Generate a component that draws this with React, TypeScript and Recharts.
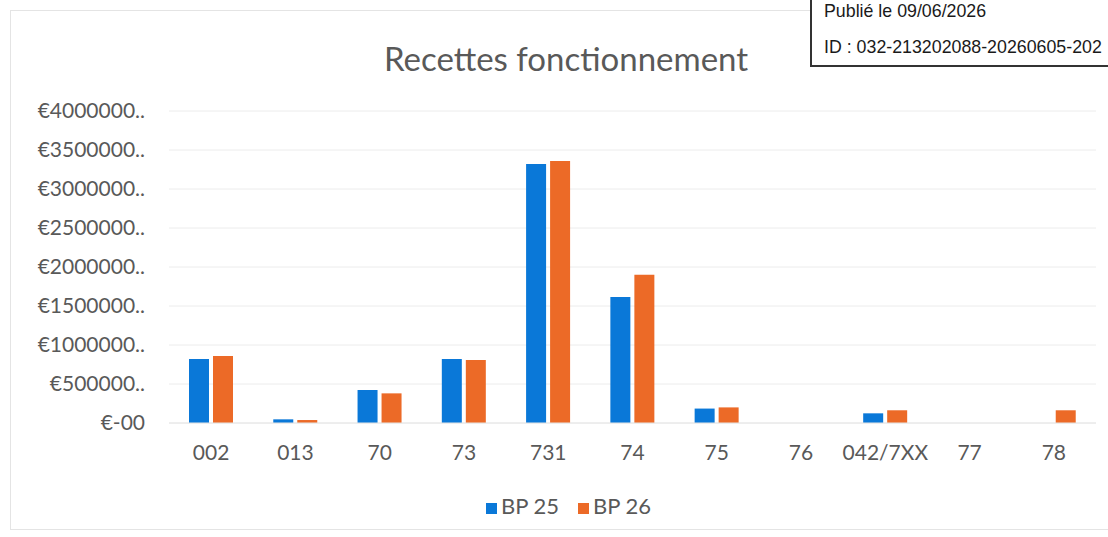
import { BarChart, Bar, XAxis, YAxis, CartesianGrid, Legend } from "recharts";

const categories = ["002", "013", "70", "73", "731", "74", "75", "76", "042/7XX", "77", "78"];
const bp25 = [820000, 47000, 423000, 820000, 3320000, 1615000, 185000, 0, 124000, 0, 0];
const bp26 = [860000, 38000, 380000, 808000, 3360000, 1900000, 200000, 0, 163000, 0, 163000];
const yTicks = [0, 500000, 1000000, 1500000, 2000000, 2500000, 3000000, 3500000, 4000000];

const BLUE = "#0A78D8";
const ORANGE = "#EC6A27";
const TEXT = "#595959";

const data = categories.map((c, i) => ({ cat: c, "BP 25": bp25[i], "BP 26": bp26[i] }));

export default function App() {
  return (
    <div
      style={{
        position: "fixed",
        left: 0,
        top: 0,
        width: 1108,
        height: 537,
        overflow: "hidden",
        background: "#fff",
        fontFamily: "Lato, sans-serif",
      }}
    >
      <div
        style={{
          position: "absolute",
          left: 10,
          top: 10,
          width: 1120,
          height: 518,
          border: "1px solid #E4E4E4",
        }}
      />
      <div
        style={{
          position: "absolute",
          left: 316,
          top: 37,
          width: 500,
          textAlign: "center",
          fontSize: 33,
          lineHeight: "42px",
          color: TEXT,
        }}
      >
        Recettes fonctionnement
      </div>
      <BarChart
        width={1108}
        height={537}
        data={data}
        margin={{ top: 111, right: 12, left: 0, bottom: 84 }}
        barSize={20}
        barGap={4}
      >
        <CartesianGrid vertical={false} stroke="#ECECEC" />
        <XAxis
          dataKey="cat"
          axisLine={{ stroke: "#E6E6E6" }}
          tickLine={false}
          tickSize={0}
          tickMargin={22}
          tick={{ fill: TEXT, fontSize: 21 }}
          interval={0}
        />
        <YAxis
          width={169}
          domain={[0, 4000000]}
          ticks={yTicks}
          axisLine={false}
          tickLine={false}
          tickSize={0}
          tickMargin={24}
          tick={{ fill: TEXT, fontSize: 21 }}
          tickFormatter={(v: number) => (v === 0 ? "€-00" : `€${v}..`)}
        />
        <Legend
          verticalAlign="middle"
          align="center"
          layout="horizontal"
          iconType="square"
          iconSize={11}
          wrapperStyle={{ top: 492, left: 24, width: 1108, fontSize: 22 }}
          formatter={(value: string) => (
            <span style={{ color: TEXT, marginRight: 9 }}>{value}</span>
          )}
        />
        <Bar dataKey="BP 25" fill={BLUE} isAnimationActive={false} />
        <Bar dataKey="BP 26" fill={ORANGE} isAnimationActive={false} />
      </BarChart>
      <div
        style={{
          position: "absolute",
          left: 810,
          top: -4,
          width: 320,
          height: 69,
          background: "#fff",
          borderLeft: "2px solid #333",
          borderBottom: "2px solid #333",
          fontFamily: "'Liberation Sans', Arial, sans-serif",
          fontSize: 17.8,
          color: "#1a1a1a",
          overflow: "hidden",
          whiteSpace: "nowrap",
        }}
      >
        <div style={{ position: "absolute", left: 12, top: 5 }}>Publié le 09/06/2026</div>
        <div style={{ position: "absolute", left: 12, top: 41 }}>ID : 032-213202088-20260605-202</div>
      </div>
    </div>
  );
}
